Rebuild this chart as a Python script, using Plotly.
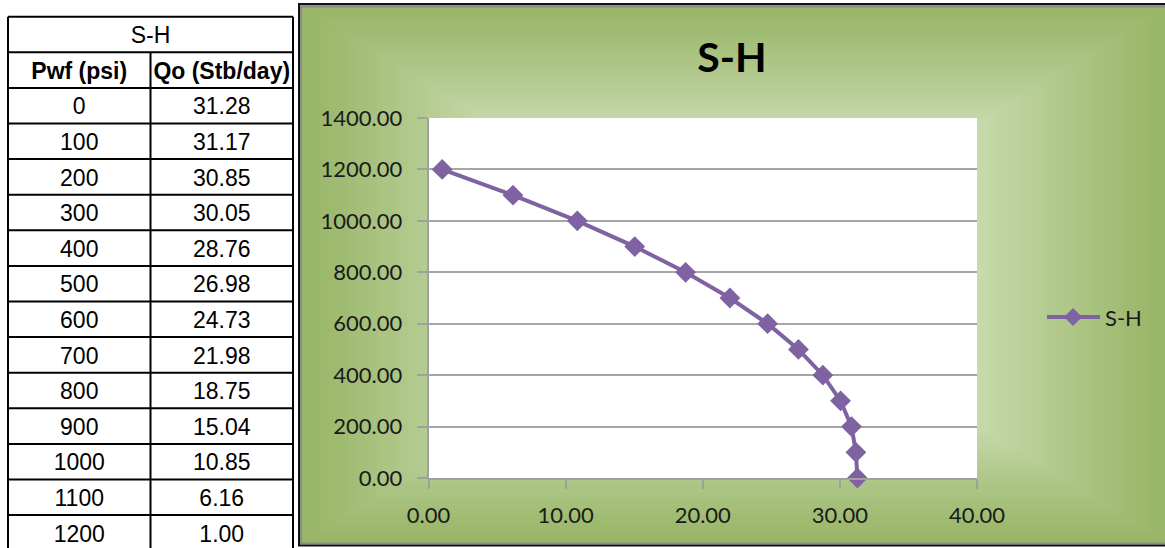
import plotly.graph_objects as go

# Well inflow data: flowing bottom-hole pressure vs. oil rate
series_name = "S-H"
pwf_psi = [0, 100, 200, 300, 400, 500, 600, 700, 800, 900, 1000, 1100, 1200]
qo_stb_day = [31.28, 31.17, 30.85, 30.05, 28.76, 26.98, 24.73, 21.98, 18.75, 15.04, 10.85, 6.16, 1.00]
table_headers = ["Pwf (psi)", "Qo (Stb/day)"]

W, H = 1165, 548
PURPLE = "#7F62A1"
CHART_FONT = "Lato, Calibri, sans-serif"
TABLE_FONT = "Liberation Sans, Arial, sans-serif"


def px(x):
    return x / W


def py(y):
    return 1 - y / H


fig = go.Figure()

# ---- IPR curve ----
fig.add_trace(go.Scatter(
    x=qo_stb_day, y=pwf_psi, name=series_name, mode="lines+markers",
    line=dict(color=PURPLE, width=4),
    marker=dict(symbol="diamond", size=16, color=PURPLE),
    cliponaxis=False, showlegend=False,
    xaxis="x", yaxis="y",
))

# ---- data table (column units across, row units down) ----
n_rows = 2 + len(pwf_psi)
text_mid = 0.58  # vertical position of text inside a row
rows_txt_x, rows_txt_y, rows_txt = [], [], []
for i, (p, q) in enumerate(zip(pwf_psi, qo_stb_day)):
    r = 2 + i + text_mid
    rows_txt_x += [0.5, 1.5]
    rows_txt_y += [r, r]
    rows_txt += [str(p), f"{q:.2f}"]

fig.add_trace(go.Scatter(
    x=rows_txt_x, y=rows_txt_y, text=rows_txt, mode="text",
    textfont=dict(family=TABLE_FONT, size=23, color="black"),
    textposition="middle center", showlegend=False, hoverinfo="skip",
    xaxis="x2", yaxis="y2", cliponaxis=False,
))
fig.add_trace(go.Scatter(
    x=[1, 0.5, 1.5], y=[text_mid, 1 + text_mid, 1 + text_mid],
    text=[series_name] + [f"<b>{h}</b>" for h in table_headers], mode="text",
    textfont=dict(family=TABLE_FONT, size=23, color="black"),
    textposition="middle center", showlegend=False, hoverinfo="skip",
    xaxis="x2", yaxis="y2", cliponaxis=False,
))

shapes = []

# ---- chart area: rectangular centre-out gradient ----
x0c, x1c, y0c, y1c = 300, 1170, 5, 544
cx, cy = (x0c + x1c) / 2, (y0c + y1c) / 2
hw, hh = (x1c - x0c) / 2, (y1c - y0c) / 2
dark = (152, 182, 104)
light = (210, 226, 187)
N = 90
for k in range(N):
    t = 1 - k / N
    s = min(max((t - 0.5) / 0.48, 0), 1) ** 0.85
    col = tuple(round(light[j] + (dark[j] - light[j]) * s) for j in range(3))
    shapes.append(dict(
        type="rect", xref="paper", yref="paper", layer="below",
        x0=px(cx - t * hw), x1=px(cx + t * hw),
        y0=py(cy + t * hh), y1=py(cy - t * hh),
        fillcolor=f"rgb{col}", line=dict(width=0),
    ))

# white plotting area over the gradient
shapes.append(dict(type="rect", xref="x domain", yref="y domain", layer="below",
                   x0=0, x1=1, y0=0, y1=1, fillcolor="white", line=dict(width=0)))

# chart frame
shapes.append(dict(type="rect", xref="paper", yref="paper", layer="above",
                   x0=px(301), x1=px(1175), y0=py(543.5), y1=py(6.5),
                   line=dict(color="#8a8a8a", width=2)))
shapes.append(dict(type="rect", xref="paper", yref="paper", layer="above",
                   x0=px(299), x1=px(1175), y0=py(545.5), y1=py(4),
                   line=dict(color="#111111", width=2)))

# table grid
for r in range(n_rows + 1):
    shapes.append(dict(type="line", xref="x2", yref="y2", x0=0, x1=2, y0=r, y1=r,
                       line=dict(color="black", width=2)))
for c, r0 in ((0, 0), (1, 1), (2, 0)):
    shapes.append(dict(type="line", xref="x2", yref="y2", x0=c, x1=c, y0=r0, y1=n_rows,
                       line=dict(color="black", width=2)))

# legend entry
leg_y = py(317)
shapes.append(dict(type="line", xref="paper", yref="paper", x0=px(1047), x1=px(1100),
                   y0=leg_y, y1=leg_y, line=dict(color=PURPLE, width=4)))
shapes.append(dict(type="path", xref="paper", yref="paper",
                   path=f"M{px(1064)},{leg_y} L{px(1073)},{py(308)} L{px(1082)},{leg_y} L{px(1073)},{py(326)} Z",
                   fillcolor=PURPLE, line=dict(width=0)))

annotations = [
    dict(text=series_name, xref="paper", yref="paper", x=px(1103), y=leg_y,
         xanchor="left", yanchor="middle", showarrow=False,
         font=dict(family=CHART_FONT, size=22, color="#1a1a1a")),
]

# table area scaling: columns 142.5 px wide from x=8, rows 35.6 px tall from y=16.7
tx0, tcw = 8, 142.5
ty0, trh = 16.7, 35.6

fig.update_layout(
    width=W, height=H, autosize=False,
    margin=dict(l=0, r=0, t=0, b=0, pad=0, autoexpand=False),
    paper_bgcolor="white", plot_bgcolor="white",
    title=dict(text=f"<b>{series_name}</b>", x=px(732), y=py(58),
               xanchor="center", yanchor="middle", automargin=False,
               font=dict(family=CHART_FONT, size=41, color="black")),
    xaxis=dict(domain=[px(428.5), px(977)], range=[0, 40], tickvals=[0, 10, 20, 30, 40],
               tickformat=".2f", showgrid=False, zeroline=False,
               showline=True, linecolor="#a0a0a0", linewidth=1.5,
               ticks="outside", ticklen=9, tickcolor="#a0a0a0", tickwidth=1.5,
               ticklabelstandoff=8, automargin=False,
               tickfont=dict(family=CHART_FONT, size=22, color="#1a1a1a"),
               anchor="y", fixedrange=True),
    yaxis=dict(domain=[py(478), py(118)], range=[0, 1400], tickvals=list(range(0, 1401, 200)),
               tickformat=".2f", showgrid=True, gridcolor="#a6a6a6", gridwidth=1.5,
               zeroline=False, showline=True, linecolor="#a0a0a0", linewidth=1.5,
               ticks="outside", ticklen=10, tickcolor="#a0a0a0", tickwidth=1.5,
               ticklabelstandoff=10, automargin=False,
               tickfont=dict(family=CHART_FONT, size=22, color="#1a1a1a"),
               anchor="x", fixedrange=True),
    xaxis2=dict(domain=[0, px(300)], range=[(0 - tx0) / tcw, (300 - tx0) / tcw],
                visible=False, anchor="y2", fixedrange=True, automargin=False),
    yaxis2=dict(domain=[0, 1], range=[(H - ty0) / trh, (0 - ty0) / trh],
                visible=False, anchor="x2", fixedrange=True, automargin=False),
    shapes=shapes,
    annotations=annotations,
    showlegend=False,
)

fig.write_html("out.html")
